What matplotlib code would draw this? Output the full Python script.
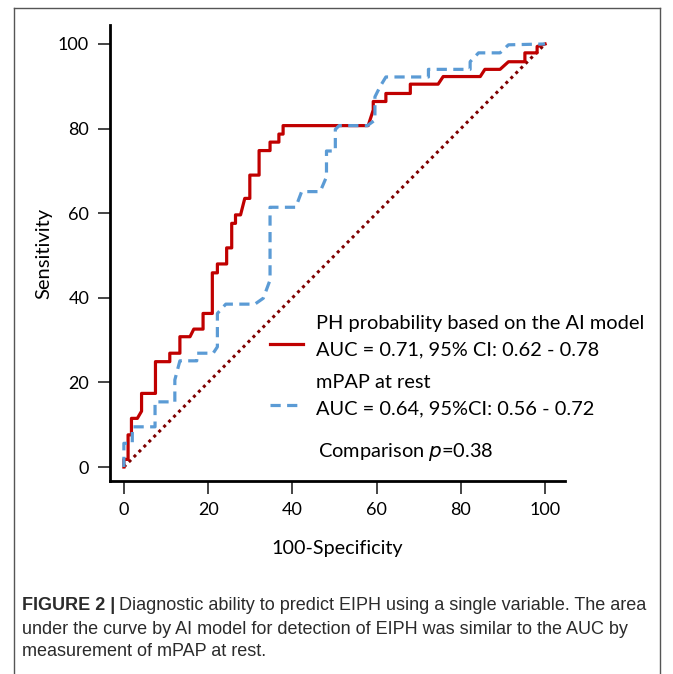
import matplotlib.pyplot as plt
from matplotlib.lines import Line2D

plt.rcParams['font.family'] = ['Lato', 'DejaVu Sans']

# ROC curve vertices (100-specificity, sensitivity)
ai_x = [0, 0, 1, 1, 1.8, 1.8, 3.2, 4.2, 4.2, 7.5, 7.5, 10.9, 10.9, 13.3, 13.3,
        15.7, 16.6, 18.8, 18.8, 21, 21, 22.2, 22.2, 24.4, 24.4, 25.6, 25.6,
        26.5, 26.5, 27.7, 28.7, 29.9, 29.9, 32.1, 32.1, 34.7, 34.7, 36.8, 36.8,
        37.8, 37.8, 58, 59.2, 59.2, 62.2, 62.2, 68, 68, 74.6, 75.8, 84.6, 85.7,
        89.3, 91.3, 95.2, 95.2, 98.1, 98.1, 100]
ai_y = [0, 1.8, 1.8, 7.6, 7.6, 11.5, 11.5, 13.2, 17.4, 17.4, 24.9, 24.9, 26.9,
        26.9, 30.8, 30.8, 32.6, 32.6, 36.3, 36.3, 45.9, 45.9, 48, 48, 51.8, 51.8,
        57.6, 57.6, 59.6, 59.6, 63.5, 63.5, 69, 69, 74.8, 74.8, 76.8, 76.8, 78.7,
        78.7, 80.7, 80.7, 84.4, 86.4, 86.4, 88.3, 88.3, 90.5, 90.5, 92.3, 92.3,
        94, 94, 95.8, 95.8, 97.9, 97.9, 99.4, 100]

mpap_x = [0, 0, 2, 2, 7.4, 7.4, 12.1, 12.1, 13.3, 17.3, 17.3, 21.2, 22.2, 22.2,
          24.2, 31.1, 33.1, 34.7, 34.7, 40.8, 42.2, 46.6, 48.1, 48.1, 50.2, 50.2,
          51.1, 57.8, 59.6, 59.6, 60.8, 62.2, 72.3, 72.3, 82.2, 82.2, 84.2, 89.3,
          91.3, 100]
mpap_y = [0, 5.6, 5.6, 9.5, 9.5, 15.4, 15.4, 20.6, 25.1, 25.1, 26.9, 26.9, 28.4,
          36.3, 38.5, 38.5, 39.9, 44.2, 61.4, 61.4, 65.1, 65.1, 68.6, 74.7, 74.7,
          79.8, 80.7, 80.7, 82, 87.5, 89.9, 92.2, 92.2, 94, 94, 95.8, 97.9, 97.9,
          99.8, 100]

ref_line = [0, 100]

ticks = [0, 20, 40, 60, 80, 100]

red = '#C00000'
blue = '#5B9BD5'
maroon = '#7F0000'

fig = plt.figure(figsize=(6.73, 6.74), dpi=100)
ax = fig.add_axes([0.1634, 0.2864, 0.676, 0.6766])

ax.plot(ref_line, ref_line, color=maroon, lw=2.2, ls=(0, (1, 1.3)), zorder=1)
ax.plot(ai_x, ai_y, color=red, lw=2.3, zorder=2)
ax.plot(mpap_x, mpap_y, color=blue, lw=2.3, ls=(0, (3.2, 2)), zorder=3)

ax.set_xlim(-3.3, 104.7)
ax.set_ylim(-3.3, 104.5)
ax.set_xticks(ticks)
ax.set_yticks(ticks)
for s in ['top', 'right']:
    ax.spines[s].set_visible(False)
for s in ['left', 'bottom']:
    ax.spines[s].set_linewidth(2)
ax.tick_params(direction='out', length=9, width=1.4, color='#444444',
               labelsize=13, pad=6)
ax.set_xlabel('100-Specificity', fontsize=14.2, labelpad=16)
ax.set_ylabel('Sensitivity', fontsize=14.5, labelpad=4)

# legend drawn by hand
fs = 14.4
fig.add_artist(Line2D([270 / 673, 303 / 673], [1 - 344 / 674] * 2, color=red, lw=2.3))
fig.add_artist(Line2D([270 / 673, 303 / 673], [1 - 405 / 674] * 2, color=blue, lw=2.3,
                      ls=(0, (3.2, 2))))
fig.text(316 / 673, 1 - 323 / 674, 'PH probability based on the AI model', fontsize=fs, va='center')
fig.text(316 / 673, 1 - 350 / 674, 'AUC = 0.71, 95% CI: 0.62 - 0.78', fontsize=fs, va='center')
fig.text(316 / 673, 1 - 383 / 674, 'mPAP at rest', fontsize=fs, va='center')
fig.text(316 / 673, 1 - 409 / 674, 'AUC = 0.64, 95%CI: 0.56 - 0.72', fontsize=fs, va='center')
fig.text(318 / 673, 1 - 452 / 674, 'Comparison $\\it{p}$=0.38', fontsize=fs, va='center')

# outer frame
fc = '#555555'
fig.add_artist(Line2D([14 / 673, 14 / 673], [0, 1 - 8 / 674], color=fc, lw=1))
fig.add_artist(Line2D([14 / 673, 660 / 673], [1 - 8 / 674] * 2, color=fc, lw=1))
fig.add_artist(Line2D([660 / 673, 660 / 673], [0, 1 - 8 / 674], color=fc, lw=1))

# caption
cap_font = ['Liberation Sans Narrow', 'Liberation Sans', 'DejaVu Sans']
cfs = 13
cc = '#2b2b2b'
b = fig.text(22 / 673, 1 - 606 / 674, 'FIGURE 2 |', fontsize=cfs, fontweight='bold',
             family=cap_font, color=cc, va='center')
r = fig.canvas.get_renderer()
bb = b.get_window_extent(renderer=r)
fig.text(bb.x1 / fig.bbox.width + 4 / 673, 1 - 606 / 674,
         'Diagnostic ability to predict EIPH using a single variable. The area',
         fontsize=cfs, family=cap_font, color=cc, va='center')
fig.text(22 / 673, 1 - 629 / 674,
         'under the curve by AI model for detection of EIPH was similar to the AUC by',
         fontsize=cfs, family=cap_font, color=cc, va='center')
fig.text(22 / 673, 1 - 652 / 674, 'measurement of mPAP at rest.',
         fontsize=cfs, family=cap_font, color=cc, va='center')

fig.savefig('out.png', dpi=100)
